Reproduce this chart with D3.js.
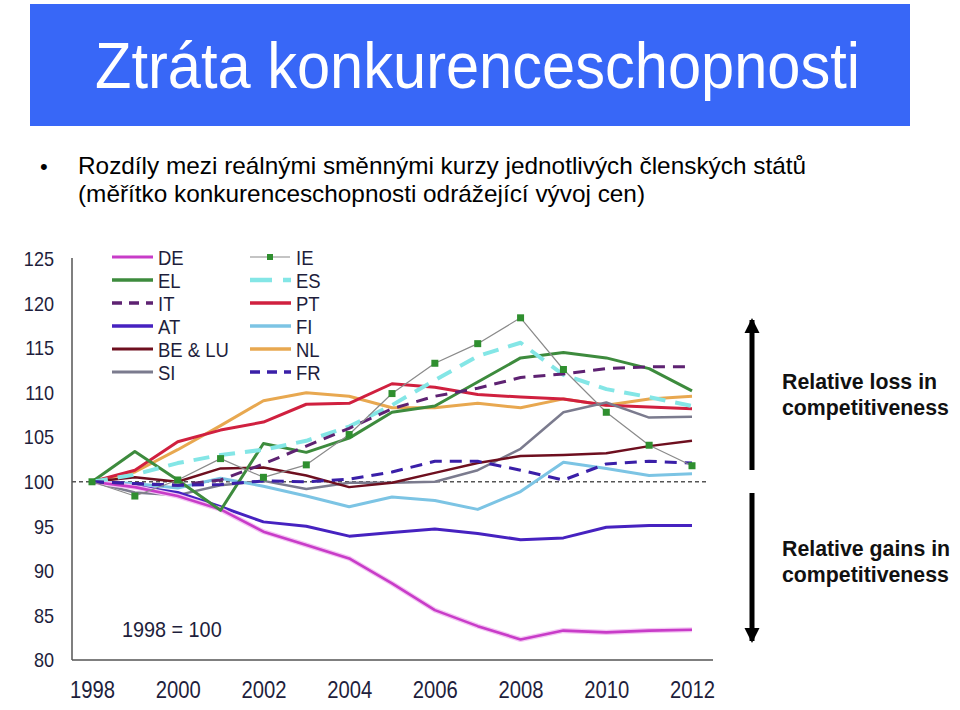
<!DOCTYPE html>
<html><head><meta charset="utf-8">
<script src="https://cdn.jsdelivr.net/npm/d3@7"></script>
<style>
html,body{margin:0;padding:0;background:#fff;}
svg{display:block;font-family:"Liberation Sans",Arial,sans-serif;}
</style></head><body>
<svg id="c" width="960" height="710"></svg>
<script>
// ---- data ----
const years = [1998,1999,2000,2001,2002,2003,2004,2005,2006,2007,2008,2009,2010,2011,2012];
const yTicks = [80,85,90,95,100,105,110,115,120,125];
const xTicks = [1998,2000,2002,2004,2006,2008,2010,2012];
const seriesNames = ["DE","EL","IT","AT","BE & LU","SI","IE","ES","PT","FI","NL","FR"];
const DE   = [100,99.4,98.4,96.9,94.4,92.9,91.4,88.6,85.6,83.8,82.3,83.3,83.1,83.3,83.4];
const EL   = [100,103.4,100.2,96.8,104.3,103.3,104.9,107.8,108.5,111.2,113.9,114.5,113.9,112.7,110.2];
const IT   = [100,99.8,99.6,100.2,102.0,104.0,106.0,108.2,109.6,110.5,111.7,112.1,112.7,112.9,112.9];
const AT   = [100,99.5,98.8,97.2,95.5,95.0,93.9,94.3,94.7,94.2,93.5,93.7,94.9,95.1,95.1];
const BELU = [100,100.5,100.0,101.5,101.6,100.7,99.4,99.9,101.0,102.1,102.9,103.0,103.2,104.0,104.6];
const SI   = [100,98.8,98.5,99.6,100.1,99.2,99.9,99.9,100.0,101.3,103.7,107.8,108.9,107.2,107.3];
const IE   = [100,98.4,100.2,102.6,100.5,101.9,105.3,109.9,113.3,115.5,118.4,112.6,107.8,104.1,101.8];
const ES   = [100,100.8,102.1,103.0,103.6,104.6,106.2,108.6,111.4,114.1,115.6,112.0,110.4,109.5,108.5];
const PT   = [100,101.3,104.5,105.8,106.7,108.7,108.8,111.0,110.6,109.8,109.5,109.3,108.6,108.4,108.2];
const FI   = [100,99.8,99.3,100.4,99.5,98.4,97.2,98.3,97.9,96.9,98.9,102.2,101.5,100.7,100.9];
const NL   = [100,101.1,103.6,106.3,109.1,110.0,109.6,108.3,108.3,108.8,108.3,109.3,108.6,109.3,109.6];
const FR   = [100,99.8,99.6,99.7,100.1,100.0,100.3,101.1,102.3,102.3,101.3,100.2,102.0,102.3,102.1];
const values = {"DE":DE,"EL":EL,"IT":IT,"AT":AT,"BE & LU":BELU,"SI":SI,"IE":IE,"ES":ES,"PT":PT,"FI":FI,"NL":NL,"FR":FR};
const baseNote = "1998 = 100";
const titleText = "Ztráta konkurenceschopnosti";
const bullet1 = "Rozdíly mezi reálnými směnnými kurzy jednotlivých členských států";
const bullet2 = "(měřítko konkurenceschopnosti odrážející vývoj cen)";
const lossLabel = ["Relative loss in","competitiveness"];
const gainLabel = ["Relative gains in","competitiveness"];

// ---- styles ----
const style = {
  "DE":     {c:"#c83cc8", w:2.6, dash:null, glow:"#f4c6f4"},
  "EL":     {c:"#3d8b3d", w:3,   dash:null},
  "IT":     {c:"#5e2272", w:3,   dash:"12,8"},
  "AT":     {c:"#4622c0", w:3,   dash:null},
  "BE & LU":{c:"#6e0f1f", w:2.5, dash:null},
  "SI":     {c:"#7b7b8e", w:2.5, dash:null},
  "IE":     {c:"#8a8a8a", w:1.2, dash:null, marker:"#2f8f2f"},
  "ES":     {c:"#84e6e6", w:4,   dash:"16,10"},
  "PT":     {c:"#d0203f", w:3,   dash:null},
  "FI":     {c:"#7cc4e4", w:3,   dash:null},
  "NL":     {c:"#e8a850", w:3,   dash:null},
  "FR":     {c:"#3a1fa8", w:3,   dash:"12,8"}
};
const drawOrder = ["NL","PT","SI","BE & LU","FI","AT","DE","EL","ES","IT","FR","IE"];

const svg = d3.select("#c");
const textCol = "#1e1e3c";

// condense text horizontally (reference type is narrow and tall)
function condense(sel, f){
  sel.each(function(){
    const w = this.getComputedTextLength();
    d3.select(this).attr("textLength", w*f).attr("lengthAdjust","spacingAndGlyphs");
  });
}

// ---- header ----
svg.append("rect").attr("x",30).attr("y",4).attr("width",880).attr("height",122).attr("fill","#3867f7");
svg.append("text").attr("x",95).attr("y",88).attr("fill","#fff")
  .attr("font-size",64).attr("textLength",765).attr("lengthAdjust","spacingAndGlyphs").text(titleText);
svg.append("text").attr("x",40).attr("y",174).attr("fill","#000").attr("font-size",22).text("•");
svg.append("text").attr("x",78).attr("y",174).attr("fill","#000").attr("font-size",24)
  .attr("textLength",728).attr("lengthAdjust","spacingAndGlyphs").text(bullet1);
svg.append("text").attr("x",78).attr("y",202).attr("fill","#000").attr("font-size",24)
  .attr("textLength",567).attr("lengthAdjust","spacingAndGlyphs").text(bullet2);

// ---- scales ----
const x = d3.scaleLinear().domain([1998,2012]).range([92,692]);
const y = d3.scaleLinear().domain([80,125]).range([660,259]);

// axes lines
svg.append("line").attr("x1",72).attr("x2",72).attr("y1",258).attr("y2",660).attr("stroke","#555").attr("stroke-width",1.5);
svg.append("line").attr("x1",72).attr("x2",713).attr("y1",660).attr("y2",660).attr("stroke","#555").attr("stroke-width",1.5);

// y tick labels via axis
const yAxis = svg.append("g").attr("transform","translate(72,0)")
  .call(d3.axisLeft(y).tickValues(yTicks).tickSize(0).tickPadding(18));
yAxis.select(".domain").remove();
yAxis.selectAll("text").attr("font-size",21).attr("fill",textCol).attr("font-family","Liberation Sans, Arial, sans-serif");
condense(yAxis.selectAll("text"), 0.86);

const xAxis = svg.append("g").attr("transform","translate(0,660)")
  .call(d3.axisBottom(x).tickValues(xTicks).tickFormat(d3.format("d")).tickSize(0).tickPadding(22));
xAxis.select(".domain").remove();
xAxis.selectAll("text").attr("font-size",23).attr("fill",textCol).attr("font-family","Liberation Sans, Arial, sans-serif");
condense(xAxis.selectAll("text"), 0.88);

// reference line at 100
svg.append("line").attr("x1",72).attr("x2",708).attr("y1",y(100)).attr("y2",y(100))
  .attr("stroke","#555").attr("stroke-width",1.5).attr("stroke-dasharray","4,3");

// ---- lines ----
const line = d3.line().x((d,i)=>x(years[i])).y(d=>y(d));
drawOrder.forEach(name=>{
  const s = style[name];
  if(s.glow){
    svg.append("path").datum(values[name]).attr("d",line).attr("fill","none")
      .attr("stroke",s.glow).attr("stroke-width",s.w+2.5).attr("stroke-linejoin","round");
  }
  const p = svg.append("path").datum(values[name]).attr("d",line).attr("fill","none")
    .attr("stroke",s.c).attr("stroke-width",s.w).attr("stroke-linejoin","round");
  if(s.dash) p.attr("stroke-dasharray",s.dash);
  if(s.marker){
    svg.selectAll(null).data(values[name]).enter().append("rect")
      .attr("x",(d,i)=>x(years[i])-3.5).attr("y",d=>y(d)-3.5).attr("width",7).attr("height",7)
      .attr("fill",s.marker);
  }
});

// ---- legend ----
const legRows = [257,280,303,326,349,372];
seriesNames.forEach((name,i)=>{
  const col = i<6?0:1, row = i%6;
  const lx = col===0?112:250, ly = legRows[row];
  const s = style[name];
  if(name==="IE"){
    svg.append("line").attr("x1",lx).attr("x2",lx+40).attr("y1",ly).attr("y2",ly).attr("stroke",s.c).attr("stroke-width",1.2);
    svg.append("rect").attr("x",lx+17).attr("y",ly-3).attr("width",6).attr("height",6).attr("fill",s.marker);
  } else {
    const l = svg.append("line").attr("x1",lx).attr("x2",lx+41).attr("y1",ly).attr("y2",ly)
      .attr("stroke",s.c).attr("stroke-width",s.w+0.5);
    if(name==="ES") l.attr("stroke-dasharray","22,11");
    else if(s.dash) l.attr("stroke-dasharray","10,7");
  }
  const t = svg.append("text").attr("x",lx+46).attr("y",ly+7.5).attr("font-size",21).attr("fill",textCol).text(name);
  condense(t, 0.88);
});

const bn = svg.append("text").attr("x",122).attr("y",637).attr("font-size",22).attr("fill",textCol).text(baseNote);
condense(bn, 0.9);

// ---- right annotation ----
function arrow(xp,y1,y2,up){
  svg.append("line").attr("x1",xp).attr("x2",xp).attr("y1",y1).attr("y2",y2).attr("stroke","#000").attr("stroke-width",5);
  const tip = up? y1-2 : y2+2;
  const base = up? tip+15 : tip-15;
  svg.append("path").attr("d",`M${xp},${tip}L${xp-7.5},${base}L${xp+7.5},${base}Z`).attr("fill","#000");
}
arrow(752,320,470,true);
arrow(752,493,641,false);
[[lossLabel,389],[gainLabel,556]].forEach(([lab,yy])=>{
  lab.forEach((t,k)=>{
    svg.append("text").attr("x",782).attr("y",yy+k*26).attr("font-size",21.3).attr("font-weight","bold")
      .attr("fill","#111").text(t);
  });
});
</script>
</body></html>
